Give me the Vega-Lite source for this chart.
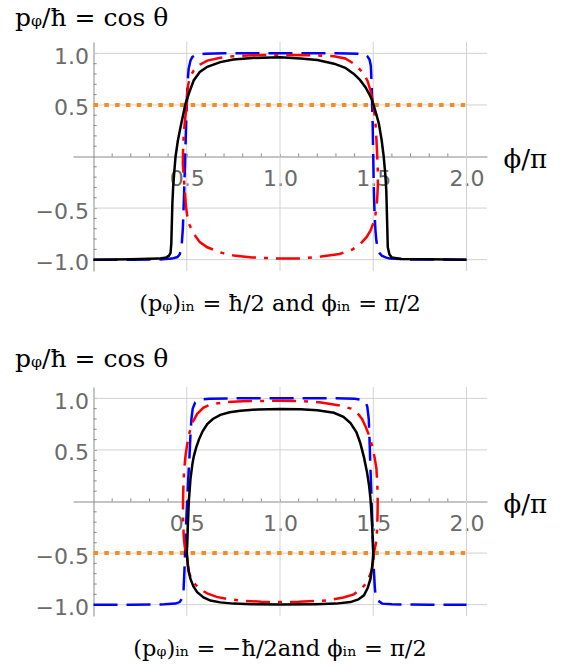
{
  "$schema": "https://vega.github.io/schema/vega-lite/v6.json",
  "padding": {"left": 14, "top": 5, "right": 5, "bottom": 5},
  "background": "white",
  "config": {
    "view": {"stroke": null},
    "axis": {
      "domainColor": "#8a8a8a", "domainWidth": 1,
      "tickColor": "#8a8a8a", "tickSize": -3, "tickWidth": 1,
      "labelFont": "DejaVu Sans", "labelFontSize": 22, "labelColor": "#6b6b6b",
      "labelFlush": false, "labelOverlap": false, "grid": false,
      "titleFont": "DejaVu Serif", "titleFontWeight": "normal", "titleColor": "black"
    }
  },
  "datasets": {
    "top": [
      {"c":"orange","b":"a","x":0,"y":0.5},{"c":"orange","b":"a","x":2,"y":0.5},
      {"c":"blue","b":"a","x":0,"y":-1},{"c":"blue","b":"a","x":0.2,"y":-1},{"c":"blue","b":"a","x":0.35,"y":-0.998},{"c":"blue","b":"a","x":0.42,"y":-0.99},{"c":"blue","b":"a","x":0.45,"y":-0.975},{"c":"blue","b":"a","x":0.462,"y":-0.95},{"c":"blue","b":"a","x":0.472,"y":-0.88},{"c":"blue","b":"a","x":0.479,"y":-0.7},{"c":"blue","b":"a","x":0.485,"y":-0.4},{"c":"blue","b":"a","x":0.49,"y":-0.1},{"c":"blue","b":"a","x":0.494,"y":0.15},{"c":"blue","b":"a","x":0.498,"y":0.4},{"c":"blue","b":"a","x":0.5,"y":0.5},{"c":"blue","b":"a","x":0.504,"y":0.7},{"c":"blue","b":"a","x":0.51,"y":0.85},{"c":"blue","b":"a","x":0.52,"y":0.93},{"c":"blue","b":"a","x":0.53,"y":0.965},{"c":"blue","b":"a","x":0.55,"y":0.988},{"c":"blue","b":"a","x":0.6,"y":0.997},{"c":"blue","b":"a","x":0.7,"y":1},{"c":"blue","b":"a","x":1,"y":1},
      {"c":"blue","b":"a","x":1.3,"y":1},{"c":"blue","b":"a","x":1.42,"y":0.995},{"c":"blue","b":"a","x":1.45,"y":0.99},{"c":"blue","b":"a","x":1.467,"y":0.975},{"c":"blue","b":"a","x":1.48,"y":0.94},{"c":"blue","b":"a","x":1.487,"y":0.88},{"c":"blue","b":"a","x":1.489,"y":0.8},{"c":"blue","b":"a","x":1.493,"y":0.6},{"c":"blue","b":"a","x":1.497,"y":0.3},{"c":"blue","b":"a","x":1.5,"y":0},{"c":"blue","b":"a","x":1.503,"y":-0.3},{"c":"blue","b":"a","x":1.507,"y":-0.55},{"c":"blue","b":"a","x":1.512,"y":-0.72},{"c":"blue","b":"a","x":1.517,"y":-0.82},{"c":"blue","b":"a","x":1.525,"y":-0.9},{"c":"blue","b":"a","x":1.535,"y":-0.94},{"c":"blue","b":"a","x":1.548,"y":-0.965},{"c":"blue","b":"a","x":1.57,"y":-0.98},{"c":"blue","b":"a","x":1.59,"y":-0.99},{"c":"blue","b":"a","x":1.7,"y":-0.998},{"c":"blue","b":"a","x":2,"y":-1},
      {"c":"red","b":"u","x":0.5,"y":0.5},{"c":"red","b":"u","x":0.502,"y":0.6},{"c":"red","b":"u","x":0.508,"y":0.7},{"c":"red","b":"u","x":0.52,"y":0.78},{"c":"red","b":"u","x":0.538,"y":0.835},{"c":"red","b":"u","x":0.57,"y":0.89},{"c":"red","b":"u","x":0.61,"y":0.93},{"c":"red","b":"u","x":0.68,"y":0.958},{"c":"red","b":"u","x":0.75,"y":0.972},{"c":"red","b":"u","x":0.85,"y":0.981},{"c":"red","b":"u","x":1,"y":0.985},{"c":"red","b":"u","x":1.15,"y":0.982},{"c":"red","b":"u","x":1.29,"y":0.972},{"c":"red","b":"u","x":1.35,"y":0.95},{"c":"red","b":"u","x":1.396,"y":0.9},{"c":"red","b":"u","x":1.425,"y":0.85},{"c":"red","b":"u","x":1.45,"y":0.8},{"c":"red","b":"u","x":1.47,"y":0.73},{"c":"red","b":"u","x":1.485,"y":0.64},{"c":"red","b":"u","x":1.494,"y":0.57},{"c":"red","b":"u","x":1.5,"y":0.5},
      {"c":"red","b":"l","x":0.5,"y":0.5},{"c":"red","b":"l","x":0.492,"y":0.38},{"c":"red","b":"l","x":0.484,"y":0.22},{"c":"red","b":"l","x":0.48,"y":0.05},{"c":"red","b":"l","x":0.479,"y":-0.07},{"c":"red","b":"l","x":0.484,"y":-0.2},{"c":"red","b":"l","x":0.49,"y":-0.35},{"c":"red","b":"l","x":0.495,"y":-0.47},{"c":"red","b":"l","x":0.502,"y":-0.57},{"c":"red","b":"l","x":0.511,"y":-0.65},{"c":"red","b":"l","x":0.538,"y":-0.75},{"c":"red","b":"l","x":0.57,"y":-0.83},{"c":"red","b":"l","x":0.61,"y":-0.88},{"c":"red","b":"l","x":0.68,"y":-0.93},{"c":"red","b":"l","x":0.752,"y":-0.96},{"c":"red","b":"l","x":0.85,"y":-0.978},{"c":"red","b":"l","x":1,"y":-0.99},{"c":"red","b":"l","x":1.11,"y":-0.988},{"c":"red","b":"l","x":1.22,"y":-0.97},{"c":"red","b":"l","x":1.32,"y":-0.945},{"c":"red","b":"l","x":1.39,"y":-0.9},{"c":"red","b":"l","x":1.43,"y":-0.85},{"c":"red","b":"l","x":1.465,"y":-0.78},{"c":"red","b":"l","x":1.485,"y":-0.72},{"c":"red","b":"l","x":1.502,"y":-0.64},{"c":"red","b":"l","x":1.512,"y":-0.56},{"c":"red","b":"l","x":1.521,"y":-0.42},{"c":"red","b":"l","x":1.525,"y":-0.27},{"c":"red","b":"l","x":1.524,"y":-0.1},{"c":"red","b":"l","x":1.52,"y":0.06},{"c":"red","b":"l","x":1.516,"y":0.2},{"c":"red","b":"l","x":1.512,"y":0.32},{"c":"red","b":"l","x":1.506,"y":0.42},{"c":"red","b":"l","x":1.5,"y":0.5},
      {"c":"black","b":"a","x":0,"y":-1},{"c":"black","b":"a","x":0.2,"y":-0.996},{"c":"black","b":"a","x":0.35,"y":-0.99},{"c":"black","b":"a","x":0.39,"y":-0.98},{"c":"black","b":"a","x":0.405,"y":-0.96},{"c":"black","b":"a","x":0.413,"y":-0.935},{"c":"black","b":"a","x":0.417,"y":-0.85},{"c":"black","b":"a","x":0.42,"y":-0.65},{"c":"black","b":"a","x":0.423,"y":-0.45},{"c":"black","b":"a","x":0.427,"y":-0.3},{"c":"black","b":"a","x":0.433,"y":-0.15},{"c":"black","b":"a","x":0.44,"y":0},{"c":"black","b":"a","x":0.452,"y":0.15},{"c":"black","b":"a","x":0.466,"y":0.28},{"c":"black","b":"a","x":0.48,"y":0.4},{"c":"black","b":"a","x":0.493,"y":0.51},{"c":"black","b":"a","x":0.515,"y":0.63},{"c":"black","b":"a","x":0.538,"y":0.74},{"c":"black","b":"a","x":0.57,"y":0.82},{"c":"black","b":"a","x":0.61,"y":0.87},{"c":"black","b":"a","x":0.68,"y":0.915},{"c":"black","b":"a","x":0.75,"y":0.94},{"c":"black","b":"a","x":0.85,"y":0.955},{"c":"black","b":"a","x":1,"y":0.963},
      {"c":"black","b":"a","x":1.11,"y":0.95},{"c":"black","b":"a","x":1.2,"y":0.935},{"c":"black","b":"a","x":1.29,"y":0.9},{"c":"black","b":"a","x":1.35,"y":0.86},{"c":"black","b":"a","x":1.396,"y":0.8},{"c":"black","b":"a","x":1.43,"y":0.74},{"c":"black","b":"a","x":1.459,"y":0.67},{"c":"black","b":"a","x":1.48,"y":0.6},{"c":"black","b":"a","x":1.495,"y":0.54},{"c":"black","b":"a","x":1.513,"y":0.43},{"c":"black","b":"a","x":1.53,"y":0.32},{"c":"black","b":"a","x":1.545,"y":0.16},{"c":"black","b":"a","x":1.556,"y":0},{"c":"black","b":"a","x":1.565,"y":-0.18},{"c":"black","b":"a","x":1.57,"y":-0.33},{"c":"black","b":"a","x":1.574,"y":-0.6},{"c":"black","b":"a","x":1.578,"y":-0.88},{"c":"black","b":"a","x":1.587,"y":-0.95},{"c":"black","b":"a","x":1.6,"y":-0.98},{"c":"black","b":"a","x":1.65,"y":-0.993},{"c":"black","b":"a","x":1.8,"y":-0.997},{"c":"black","b":"a","x":2,"y":-1}
    ],
    "bot": [
      {"c":"orange","b":"a","x":0,"y":-0.5},{"c":"orange","b":"a","x":2,"y":-0.5},
      {"c":"blue","b":"a","x":0,"y":-1},{"c":"blue","b":"a","x":0.2,"y":-1},{"c":"blue","b":"a","x":0.38,"y":-0.997},{"c":"blue","b":"a","x":0.44,"y":-0.99},{"c":"blue","b":"a","x":0.462,"y":-0.975},{"c":"blue","b":"a","x":0.475,"y":-0.94},{"c":"blue","b":"a","x":0.483,"y":-0.85},{"c":"blue","b":"a","x":0.488,"y":-0.65},{"c":"blue","b":"a","x":0.492,"y":-0.45},{"c":"blue","b":"a","x":0.497,"y":-0.2},{"c":"blue","b":"a","x":0.502,"y":0},{"c":"blue","b":"a","x":0.508,"y":0.22},{"c":"blue","b":"a","x":0.515,"y":0.45},{"c":"blue","b":"a","x":0.52,"y":0.65},{"c":"blue","b":"a","x":0.525,"y":0.8},{"c":"blue","b":"a","x":0.532,"y":0.9},{"c":"blue","b":"a","x":0.545,"y":0.96},{"c":"blue","b":"a","x":0.565,"y":0.985},{"c":"blue","b":"a","x":0.62,"y":0.997},{"c":"blue","b":"a","x":0.75,"y":1},{"c":"blue","b":"a","x":1,"y":1},
      {"c":"blue","b":"a","x":1.3,"y":1},{"c":"blue","b":"a","x":1.4,"y":0.995},{"c":"blue","b":"a","x":1.44,"y":0.985},{"c":"blue","b":"a","x":1.458,"y":0.97},{"c":"blue","b":"a","x":1.468,"y":0.92},{"c":"blue","b":"a","x":1.476,"y":0.8},{"c":"blue","b":"a","x":1.481,"y":0.55},{"c":"blue","b":"a","x":1.485,"y":0.32},{"c":"blue","b":"a","x":1.49,"y":0.07},{"c":"blue","b":"a","x":1.494,"y":-0.17},{"c":"blue","b":"a","x":1.499,"y":-0.42},{"c":"blue","b":"a","x":1.503,"y":-0.65},{"c":"blue","b":"a","x":1.508,"y":-0.82},{"c":"blue","b":"a","x":1.512,"y":-0.91},{"c":"blue","b":"a","x":1.525,"y":-0.96},{"c":"blue","b":"a","x":1.548,"y":-0.99},{"c":"blue","b":"a","x":1.6,"y":-0.997},{"c":"blue","b":"a","x":1.8,"y":-1},{"c":"blue","b":"a","x":2,"y":-1},
      {"c":"red","b":"u","x":0.5,"y":-0.5},{"c":"red","b":"u","x":0.49,"y":-0.45},{"c":"red","b":"u","x":0.484,"y":-0.35},{"c":"red","b":"u","x":0.48,"y":-0.15},{"c":"red","b":"u","x":0.48,"y":0},{"c":"red","b":"u","x":0.482,"y":0.15},{"c":"red","b":"u","x":0.486,"y":0.3},{"c":"red","b":"u","x":0.493,"y":0.44},{"c":"red","b":"u","x":0.502,"y":0.55},{"c":"red","b":"u","x":0.515,"y":0.67},{"c":"red","b":"u","x":0.532,"y":0.77},{"c":"red","b":"u","x":0.556,"y":0.85},{"c":"red","b":"u","x":0.59,"y":0.91},{"c":"red","b":"u","x":0.627,"y":0.94},{"c":"red","b":"u","x":0.7,"y":0.962},{"c":"red","b":"u","x":0.8,"y":0.972},{"c":"red","b":"u","x":1,"y":0.977},
      {"c":"red","b":"u","x":1.11,"y":0.975},{"c":"red","b":"u","x":1.22,"y":0.96},{"c":"red","b":"u","x":1.324,"y":0.93},{"c":"red","b":"u","x":1.38,"y":0.9},{"c":"red","b":"u","x":1.414,"y":0.86},{"c":"red","b":"u","x":1.44,"y":0.8},{"c":"red","b":"u","x":1.458,"y":0.73},{"c":"red","b":"u","x":1.478,"y":0.64},{"c":"red","b":"u","x":1.494,"y":0.54},{"c":"red","b":"u","x":1.507,"y":0.43},{"c":"red","b":"u","x":1.517,"y":0.32},{"c":"red","b":"u","x":1.522,"y":0.16},{"c":"red","b":"u","x":1.524,"y":0},{"c":"red","b":"u","x":1.523,"y":-0.13},{"c":"red","b":"u","x":1.521,"y":-0.27},{"c":"red","b":"u","x":1.515,"y":-0.4},{"c":"red","b":"u","x":1.507,"y":-0.47},{"c":"red","b":"u","x":1.5,"y":-0.5},
      {"c":"red","b":"l","x":0.5,"y":-0.5},{"c":"red","b":"l","x":0.505,"y":-0.6},{"c":"red","b":"l","x":0.511,"y":-0.68},{"c":"red","b":"l","x":0.522,"y":-0.74},{"c":"red","b":"l","x":0.538,"y":-0.79},{"c":"red","b":"l","x":0.57,"y":-0.85},{"c":"red","b":"l","x":0.61,"y":-0.89},{"c":"red","b":"l","x":0.66,"y":-0.925},{"c":"red","b":"l","x":0.717,"y":-0.945},{"c":"red","b":"l","x":0.8,"y":-0.962},{"c":"red","b":"l","x":0.9,"y":-0.972},{"c":"red","b":"l","x":1,"y":-0.975},
      {"c":"red","b":"l","x":1.1,"y":-0.972},{"c":"red","b":"l","x":1.25,"y":-0.96},{"c":"red","b":"l","x":1.34,"y":-0.93},{"c":"red","b":"l","x":1.396,"y":-0.9},{"c":"red","b":"l","x":1.44,"y":-0.84},{"c":"red","b":"l","x":1.467,"y":-0.78},{"c":"red","b":"l","x":1.485,"y":-0.7},{"c":"red","b":"l","x":1.494,"y":-0.65},{"c":"red","b":"l","x":1.499,"y":-0.58},{"c":"red","b":"l","x":1.5,"y":-0.5},
      {"c":"black","b":"u","x":0.5,"y":-0.5},{"c":"black","b":"u","x":0.503,"y":-0.4},{"c":"black","b":"u","x":0.506,"y":-0.23},{"c":"black","b":"u","x":0.511,"y":0},{"c":"black","b":"u","x":0.52,"y":0.22},{"c":"black","b":"u","x":0.53,"y":0.36},{"c":"black","b":"u","x":0.538,"y":0.44},{"c":"black","b":"u","x":0.55,"y":0.52},{"c":"black","b":"u","x":0.565,"y":0.6},{"c":"black","b":"u","x":0.585,"y":0.68},{"c":"black","b":"u","x":0.61,"y":0.75},{"c":"black","b":"u","x":0.64,"y":0.8},{"c":"black","b":"u","x":0.68,"y":0.84},{"c":"black","b":"u","x":0.73,"y":0.865},{"c":"black","b":"u","x":0.788,"y":0.88},{"c":"black","b":"u","x":0.88,"y":0.892},{"c":"black","b":"u","x":1,"y":0.897},
      {"c":"black","b":"u","x":1.11,"y":0.895},{"c":"black","b":"u","x":1.2,"y":0.885},{"c":"black","b":"u","x":1.289,"y":0.86},{"c":"black","b":"u","x":1.34,"y":0.82},{"c":"black","b":"u","x":1.378,"y":0.76},{"c":"black","b":"u","x":1.41,"y":0.67},{"c":"black","b":"u","x":1.43,"y":0.57},{"c":"black","b":"u","x":1.45,"y":0.43},{"c":"black","b":"u","x":1.467,"y":0.28},{"c":"black","b":"u","x":1.478,"y":0.15},{"c":"black","b":"u","x":1.485,"y":0.03},{"c":"black","b":"u","x":1.49,"y":-0.1},{"c":"black","b":"u","x":1.494,"y":-0.235},{"c":"black","b":"u","x":1.498,"y":-0.4},{"c":"black","b":"u","x":1.5,"y":-0.5},
      {"c":"black","b":"l","x":0.5,"y":-0.5},{"c":"black","b":"l","x":0.503,"y":-0.56},{"c":"black","b":"l","x":0.506,"y":-0.62},{"c":"black","b":"l","x":0.512,"y":-0.69},{"c":"black","b":"l","x":0.52,"y":-0.75},{"c":"black","b":"l","x":0.535,"y":-0.82},{"c":"black","b":"l","x":0.556,"y":-0.88},{"c":"black","b":"l","x":0.59,"y":-0.93},{"c":"black","b":"l","x":0.627,"y":-0.96},{"c":"black","b":"l","x":0.68,"y":-0.978},{"c":"black","b":"l","x":0.75,"y":-0.99},{"c":"black","b":"l","x":0.85,"y":-0.996},{"c":"black","b":"l","x":1,"y":-0.998},
      {"c":"black","b":"l","x":1.19,"y":-0.995},{"c":"black","b":"l","x":1.3,"y":-0.99},{"c":"black","b":"l","x":1.378,"y":-0.975},{"c":"black","b":"l","x":1.42,"y":-0.95},{"c":"black","b":"l","x":1.45,"y":-0.91},{"c":"black","b":"l","x":1.47,"y":-0.84},{"c":"black","b":"l","x":1.485,"y":-0.75},{"c":"black","b":"l","x":1.493,"y":-0.65},{"c":"black","b":"l","x":1.498,"y":-0.56},{"c":"black","b":"l","x":1.5,"y":-0.5}
    ],
    "hgrid": [{"g": -1}, {"g": -0.5}, {"g": 0.5}, {"g": 1}],
    "vgrid": [{"g": 0.5}, {"g": 1}, {"g": 1.5}, {"g": 2}],
    "xminor": [{"t":0.1},{"t":0.2},{"t":0.3},{"t":0.4},{"t":0.6},{"t":0.7},{"t":0.8},{"t":0.9},{"t":1.1},{"t":1.2},{"t":1.3},{"t":1.4},{"t":1.6},{"t":1.7},{"t":1.8},{"t":1.9}],
    "yminor": [{"t":-0.9},{"t":-0.8},{"t":-0.7},{"t":-0.6},{"t":-0.4},{"t":-0.3},{"t":-0.2},{"t":-0.1},{"t":0.1},{"t":0.2},{"t":0.3},{"t":0.4},{"t":0.6},{"t":0.7},{"t":0.8},{"t":0.9}]
  },
  "spacing": 116,
  "bounds": "flush",
  "vconcat": [
    {
      "width": 414, "height": 229,
      "title": {"text": "(pᵩ)ᵢₙ = ħ/2 and ϕᵢₙ = π/2", "orient": "bottom", "anchor": "middle", "frame": "group", "offset": 19, "font": "DejaVu Serif", "fontSize": 22.5, "fontWeight": "normal", "color": "black"},
      "layer": [
        {"data": {"name": "hgrid"}, "mark": {"type": "rule", "color": "#d2d2d2", "strokeWidth": 1},
         "encoding": {
           "y": {"field": "g", "type": "quantitative", "scale": {"domain": [-1.11, 1.11], "nice": false, "zero": false},
                 "axis": {"title": "pᵩ/ħ = cos θ", "titleFontSize": 25, "titleAngle": 0, "titleAlign": "left", "titleBaseline": "alphabetic", "titleX": -79, "titleY": -17,
                          "offset": -20.5, "labelPadding": 8, "labelOffset": 3, "labelOverlap": false, "labelFlush": false,
                          "values": [-1.0, -0.5, 0.5, 1.0], "format": ".1f"}},
           "x": {"datum": 0, "type": "quantitative", "scale": {"domain": [-0.11, 2.11], "nice": false, "zero": false},
                 "axis": {"title": "ϕ/π", "titleFontSize": 26, "titleX": 430, "titleY": 3, "titleAlign": "left", "titleBaseline": "middle",
                          "offset": -114.5, "labelPadding": 15, "labelOverlap": false, "labelFlush": false,
                          "values": [0.5, 1.0, 1.5, 2.0], "format": ".1f"}},
           "x2": {"datum": 2.11}}},
        {"data": {"name": "vgrid"}, "mark": {"type": "rule", "color": "#d2d2d2", "strokeWidth": 1},
         "encoding": {"x": {"field": "g", "type": "quantitative"},
                      "y": {"datum": -1.11, "type": "quantitative"}, "y2": {"datum": 1.11}}},
        {"data": {"name": "xminor"}, "mark": {"type": "rule", "color": "#8a8a8a", "strokeWidth": 1},
         "encoding": {"x": {"field": "t", "type": "quantitative"}, "y": {"datum": 0, "type": "quantitative"}, "y2": {"datum": 0.03}}},
        {"data": {"name": "yminor"}, "mark": {"type": "rule", "color": "#8a8a8a", "strokeWidth": 1},
         "encoding": {"y": {"field": "t", "type": "quantitative"}, "x": {"datum": 0, "type": "quantitative"}, "x2": {"datum": 0.017}}},
        {"data": {"name": "top"}, "transform": [{"filter": "datum.c === 'orange'"}],
         "mark": {"type": "line", "color": "#fb8a1c", "strokeWidth": 4, "strokeDash": [4.5, 6.3], "strokeCap": "butt"},
         "encoding": {"x": {"field": "x", "type": "quantitative"}, "y": {"field": "y", "type": "quantitative"}, "order": {"value": null}}},
        {"data": {"name": "top"}, "transform": [{"filter": "datum.c === 'blue'"}],
         "mark": {"type": "line", "color": "#0000ff", "strokeWidth": 2.5, "strokeDash": [24, 9], "strokeCap": "butt"},
         "encoding": {"x": {"field": "x", "type": "quantitative"}, "y": {"field": "y", "type": "quantitative"}, "order": {"value": null}}},
        {"data": {"name": "top"}, "transform": [{"filter": "datum.c === 'red'"}],
         "mark": {"type": "line", "color": "#ff0000", "strokeWidth": 2.5, "strokeDash": [24, 8, 4, 8], "strokeCap": "butt"},
         "encoding": {"x": {"field": "x", "type": "quantitative"}, "y": {"field": "y", "type": "quantitative"}, "detail": {"field": "b"}, "order": {"value": null}}},
        {"data": {"name": "top"}, "transform": [{"filter": "datum.c === 'black'"}],
         "mark": {"type": "line", "color": "#000000", "strokeWidth": 2.5},
         "encoding": {"x": {"field": "x", "type": "quantitative"}, "y": {"field": "y", "type": "quantitative"}, "detail": {"field": "b"}, "order": {"value": null}}}
      ]
    },
    {
      "width": 414, "height": 229,
      "title": {"text": "(pᵩ)ᵢₙ = −ħ/2and ϕᵢₙ = π/2", "orient": "bottom", "anchor": "middle", "frame": "group", "offset": 19, "font": "DejaVu Serif", "fontSize": 22.5, "fontWeight": "normal", "color": "black"},
      "layer": [
        {"data": {"name": "hgrid"}, "mark": {"type": "rule", "color": "#d2d2d2", "strokeWidth": 1},
         "encoding": {
           "y": {"field": "g", "type": "quantitative", "scale": {"domain": [-1.11, 1.11], "nice": false, "zero": false},
                 "axis": {"title": "pᵩ/ħ = cos θ", "titleFontSize": 25, "titleAngle": 0, "titleAlign": "left", "titleBaseline": "alphabetic", "titleX": -79, "titleY": -21,
                          "offset": -20.5, "labelPadding": 8, "labelOffset": 3, "labelOverlap": false, "labelFlush": false,
                          "values": [-1.0, -0.5, 0.5, 1.0], "format": ".1f"}},
           "x": {"datum": 0, "type": "quantitative", "scale": {"domain": [-0.11, 2.11], "nice": false, "zero": false},
                 "axis": {"title": "ϕ/π", "titleFontSize": 26, "titleX": 430, "titleY": 3, "titleAlign": "left", "titleBaseline": "middle",
                          "offset": -114.5, "labelPadding": 15, "labelOverlap": false, "labelFlush": false,
                          "values": [0.5, 1.0, 1.5, 2.0], "format": ".1f"}},
           "x2": {"datum": 2.11}}},
        {"data": {"name": "vgrid"}, "mark": {"type": "rule", "color": "#d2d2d2", "strokeWidth": 1},
         "encoding": {"x": {"field": "g", "type": "quantitative"},
                      "y": {"datum": -1.11, "type": "quantitative"}, "y2": {"datum": 1.11}}},
        {"data": {"name": "xminor"}, "mark": {"type": "rule", "color": "#8a8a8a", "strokeWidth": 1},
         "encoding": {"x": {"field": "t", "type": "quantitative"}, "y": {"datum": 0, "type": "quantitative"}, "y2": {"datum": 0.03}}},
        {"data": {"name": "yminor"}, "mark": {"type": "rule", "color": "#8a8a8a", "strokeWidth": 1},
         "encoding": {"y": {"field": "t", "type": "quantitative"}, "x": {"datum": 0, "type": "quantitative"}, "x2": {"datum": 0.017}}},
        {"data": {"name": "bot"}, "transform": [{"filter": "datum.c === 'orange'"}],
         "mark": {"type": "line", "color": "#fb8a1c", "strokeWidth": 4, "strokeDash": [4.5, 6.3], "strokeCap": "butt"},
         "encoding": {"x": {"field": "x", "type": "quantitative"}, "y": {"field": "y", "type": "quantitative"}, "order": {"value": null}}},
        {"data": {"name": "bot"}, "transform": [{"filter": "datum.c === 'blue'"}],
         "mark": {"type": "line", "color": "#0000ff", "strokeWidth": 2.5, "strokeDash": [24, 9], "strokeCap": "butt"},
         "encoding": {"x": {"field": "x", "type": "quantitative"}, "y": {"field": "y", "type": "quantitative"}, "order": {"value": null}}},
        {"data": {"name": "bot"}, "transform": [{"filter": "datum.c === 'red'"}],
         "mark": {"type": "line", "color": "#ff0000", "strokeWidth": 2.5, "strokeDash": [24, 8, 4, 8], "strokeCap": "butt"},
         "encoding": {"x": {"field": "x", "type": "quantitative"}, "y": {"field": "y", "type": "quantitative"}, "detail": {"field": "b"}, "order": {"value": null}}},
        {"data": {"name": "bot"}, "transform": [{"filter": "datum.c === 'black'"}],
         "mark": {"type": "line", "color": "#000000", "strokeWidth": 2.5},
         "encoding": {"x": {"field": "x", "type": "quantitative"}, "y": {"field": "y", "type": "quantitative"}, "detail": {"field": "b"}, "order": {"value": null}}}
      ]
    }
  ]
}
